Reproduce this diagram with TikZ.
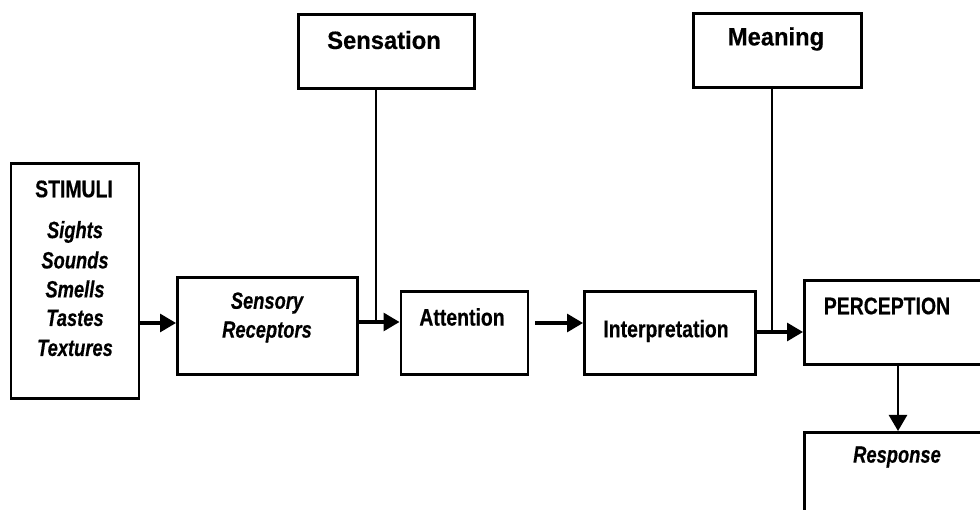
\documentclass[tikz,border=0pt]{standalone}
\usepackage{fontspec}
\setmainfont{Liberation Sans}
\newfontfamily\condfont{Liberation Sans}[FakeStretch=0.81,FakeBold=0.4]
\newfontfamily\italcond{Liberation Sans}[FakeStretch=0.78,FakeBold=0.4]
\newfontfamily\topfont{Liberation Sans}[FakeStretch=0.95,FakeBold=0.4]
\usetikzlibrary{arrows.meta}
\begin{document}
\begin{tikzpicture}[x=1pt,y=-1pt,
  box/.style={draw,line width=2.8pt,rectangle,inner sep=0pt,anchor=north west},
  lbl/.style={inner sep=0pt,font=\condfont\bfseries\fontsize{24}{28}\selectfont},
  ilbl/.style={inner sep=0pt,font=\italcond\bfseries\itshape\fontsize{23.5}{28}\selectfont},
  toplbl/.style={inner sep=0pt,font=\topfont\bfseries\fontsize{25}{29}\selectfont},
  conn/.style={line width=2.6pt},
  arr/.style={line width=3.1pt,-{Triangle[length=16pt,width=18pt]}},
  varr/.style={line width=2.6pt,-{Triangle[length=16pt,width=18pt]}}]
\useasboundingbox (0,0) rectangle (980,510);
\fill[white] (0,0) rectangle (980,510);
% boxes
\node[box,minimum width=128pt,minimum height=235pt] (stim) at (9.5,162.5) {};
\node[box,minimum width=180pt,minimum height=97pt] (sens) at (176,276) {};
\node[box,minimum width=176pt,minimum height=74pt] (sensation) at (297,13) {};
\node[box,minimum width=127pt,minimum height=83pt] (att) at (399.5,290) {};
\node[box,minimum width=171pt,minimum height=83pt] (interp) at (583,290) {};
\node[box,minimum width=168pt,minimum height=74pt] (meaning) at (692,12) {};
\node[box,minimum width=190pt,minimum height=84pt] (perc) at (803,279) {};
\node[box,minimum width=190pt,minimum height=100pt] (resp) at (803,431) {};
% texts
\node[lbl] (tstim) at (74,189) {STIMULI};
\node[ilbl] (t1) at (75,232) {Sights};
\node[ilbl] (t2) at (75,260) {Sounds};
\node[ilbl] (t3) at (75,289) {Smells};
\node[ilbl] (t4) at (75,318) {Tastes};
\node[ilbl] (t5) at (75,348) {Textures};
\node[ilbl] (tsens1) at (267,303) {Sensory};
\node[ilbl] (tsens2) at (267,332) {Receptors};
\node[toplbl] (tsensation) at (384,40) {Sensation};
\node[toplbl] (tmeaning) at (776,39) {Meaning};
\node[lbl] (tatt) at (462,317) {Attention};
\node[lbl] (tinterp) at (666,331) {Interpretation};
\node[lbl] (tperc) at (887,306) {PERCEPTION};
\node[ilbl] (tresp) at (897,457) {Response};
% connectors
\coordinate (j1) at (376,322);
\coordinate (j2) at (772,332);
\coordinate (a0) at (535,323);
\coordinate (p0) at (898,363);
\draw[arr] (stim.east |- 0,323) -- (sens.west |- 0,323);
\draw[conn] (sensation.south -| j1) -- (j1);
\draw[arr] (sens.east |- j1) -- (att.west |- j1);
\draw[arr] (a0) -- (interp.west |- a0);
\draw[conn] (meaning.south -| j2) -- (j2);
\draw[arr] (interp.east |- j2) -- (perc.west |- j2);
\draw[varr] (perc.south -| p0) -- (resp.north -| p0);
\end{tikzpicture}
\end{document}
